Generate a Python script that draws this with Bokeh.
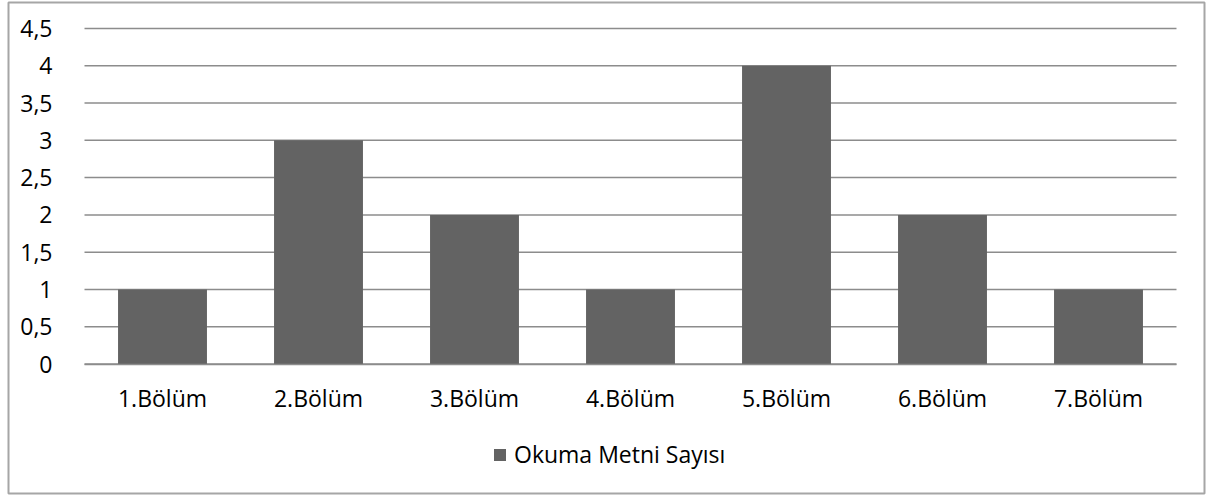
from bokeh.plotting import figure
from bokeh.models import (Range1d, Legend, LegendItem, LinearAxis, FixedTicker,
                          CustomJSTickFormatter, ColumnDataSource)
from bokeh.embed import file_html
from bokeh.resources import INLINE

# Chapter-by-chapter count of reading texts
categories = ["1.Bölüm", "2.Bölüm", "3.Bölüm", "4.Bölüm", "5.Bölüm", "6.Bölüm", "7.Bölüm"]
counts = [1, 3, 2, 1, 4, 2, 1]
series_name = "Okuma Metni Sayısı"
y_ticks = [0, 0.5, 1, 1.5, 2, 2.5, 3, 3.5, 4, 4.5]

FONT = "Open Sans"
FONT_SIZE = "23px"
BAR = "#636363"
GRID = "#8c8c8c"
BORDER = "#a6a6a6"

# category slots sit at x = 0..7, one unit each; bars centred in their slot
slot_centers = [i + 0.5 for i in range(len(categories))]
n_slots = len(categories)

src = ColumnDataSource(data=dict(x=slot_centers, val=counts, cat=categories))

# the frame is the whole chart box; ranges leave room for labels and legend
p = figure(
    width=1224, height=497,
    x_range=Range1d(-0.4872, n_slots + 0.1795),
    y_range=Range1d(-1.7369, 4.8487),
    output_backend="svg", toolbar_location=None,
    x_axis_location=None, y_axis_location=None,
    min_border_left=8, min_border_right=20,
    min_border_top=2, min_border_bottom=4,
)
p.outline_line_color = BORDER
p.outline_line_width = 2
p.background_fill_color = "white"
p.border_fill_color = "white"
p.xgrid.grid_line_color = None
p.ygrid.grid_line_color = None

# horizontal gridlines across the plotting slots
p.segment(x0=[0] * len(y_ticks), x1=[n_slots] * len(y_ticks), y0=y_ticks, y1=y_ticks,
          line_color=GRID, line_width=1.5)

r = p.vbar(x="x", top="val", width=0.57, source=src,
           fill_color=BAR, line_color=None)

# value axis at the left edge of the first slot
yaxis = LinearAxis(fixed_location=0, ticker=FixedTicker(ticks=y_ticks))
yaxis.formatter = CustomJSTickFormatter(code="return String(tick).replace('.', ',');")
yaxis.axis_line_color = None
yaxis.major_tick_line_color = None
yaxis.minor_tick_line_color = None
yaxis.major_label_standoff = 26
yaxis.major_label_text_font = FONT
yaxis.major_label_text_font_size = FONT_SIZE
yaxis.major_label_text_color = "black"
p.add_layout(yaxis, "left")

# category axis on the zero line
xaxis = LinearAxis(fixed_location=0, bounds=(0, n_slots),
                   ticker=FixedTicker(ticks=slot_centers))
xaxis.major_label_overrides = {c: lab for c, lab in zip(slot_centers, categories)}
xaxis.axis_line_color = GRID
xaxis.axis_line_width = 1.5
xaxis.major_tick_line_color = None
xaxis.minor_tick_line_color = None
xaxis.major_label_standoff = 12
xaxis.major_label_text_font = FONT
xaxis.major_label_text_font_size = FONT_SIZE
xaxis.major_label_text_color = "black"
p.add_layout(xaxis, "below")

legend = Legend(
    items=[LegendItem(label=series_name, renderers=[r])],
    location=(484, 23),
    orientation="horizontal",
    glyph_width=15, glyph_height=15,
    label_standoff=7, padding=0, margin=0, spacing=0,
    border_line_color=None, background_fill_alpha=0,
    label_text_font=FONT, label_text_font_size=FONT_SIZE,
    label_text_color="black",
)
p.add_layout(legend, "center")

open("out.html", "w").write(file_html(p, INLINE))
